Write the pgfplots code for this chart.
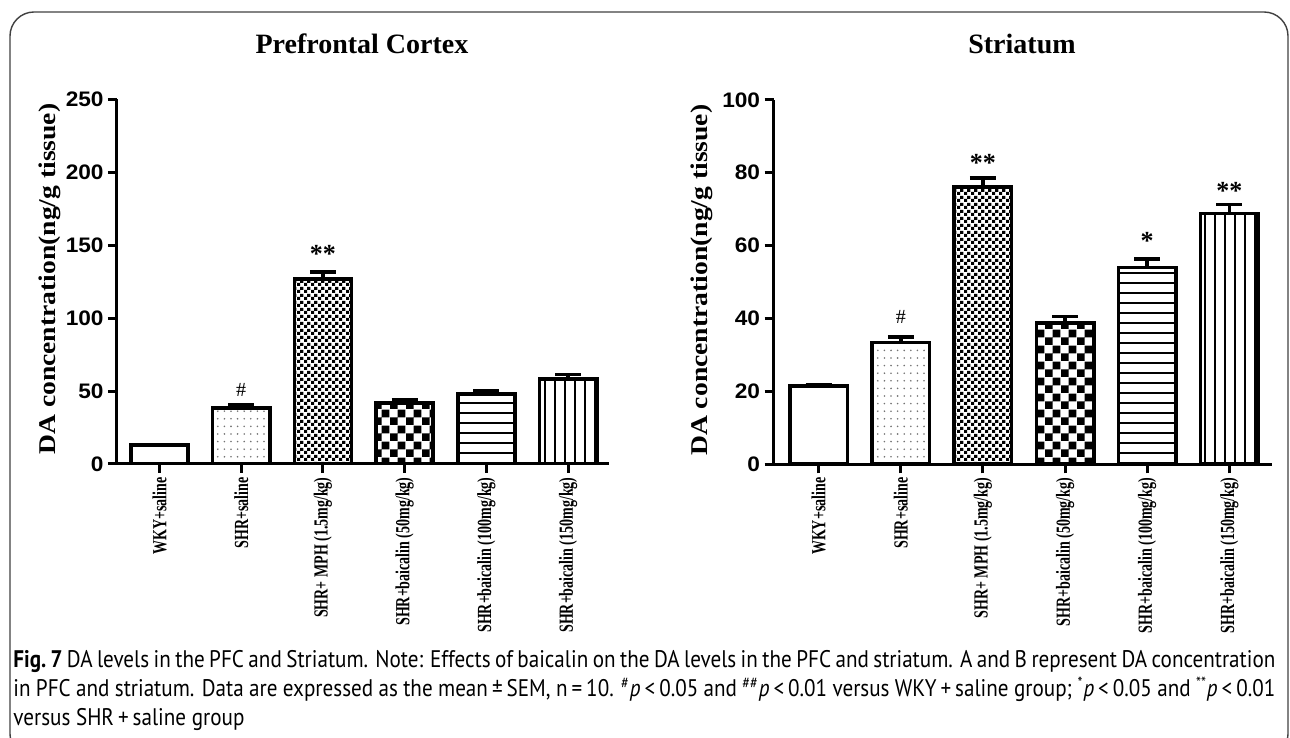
\documentclass[border=0pt]{standalone}
\usepackage{pgfplots}
\pgfplotsset{compat=1.18}
\usetikzlibrary{patterns.meta}
\usepackage{fontspec}
\setmainfont{Liberation Serif}
\newfontfamily\lblfont[FakeStretch=0.7]{Liberation Serif}
\newfontfamily\ylabfont[FakeStretch=1.15]{Liberation Serif}
\newfontfamily\numfont[FakeStretch=1.08]{Liberation Sans}
\newfontfamily\capfont[FakeStretch=0.88]{PT Sans}

% bar fillings
\tikzdeclarepattern{name=sparsedots, type=uncolored,
  bounding box={(-1pt,-1pt) and (1pt,1pt)},
  tile size={(3.3pt,3.8pt)},
  code={\fill (0,0) circle (0.45pt);}}
\tikzdeclarepattern{name=finecheck, type=uncolored,
  bounding box={(0,0) and (3.3pt,3.3pt)},
  tile size={(3.3pt,3.3pt)},
  code={\fill (0,0) rectangle (1.65pt,1.65pt) (1.65pt,1.65pt) rectangle (3.3pt,3.3pt);}}
\tikzdeclarepattern{name=coarsecheck, type=uncolored,
  bounding box={(0,0) and (7.8pt,7.8pt)},
  tile size={(7.8pt,7.8pt)},
  code={\fill (0,0) rectangle (3.9pt,3.9pt) (3.9pt,3.9pt) rectangle (7.8pt,7.8pt);}}
\tikzdeclarepattern{name=hlines, type=uncolored,
  bounding box={(-0.5pt,0) and (5.5pt,5pt)},
  tile size={(5pt,5pt)},
  code={\fill (-0.5pt,2.2pt) rectangle (5.5pt,2.8pt);}}
\tikzdeclarepattern{name=vlines, type=uncolored,
  bounding box={(0,-0.5pt) and (5pt,5.5pt)},
  tile size={(5pt,5pt)},
  code={\fill (2.2pt,-0.5pt) rectangle (2.8pt,5.5pt);}}

\tikzset{sig/.style={font=\bfseries\fontsize{13}{13}\selectfont}}

\pgfplotsset{
  dachart/.style={
    scale only axis, height=182.25pt,
    ymin=0,
    axis x line=bottom, axis y line=left,
    axis line style={-, line width=1.5pt},
    xtick={0,...,5},
    xticklabels={WKY+saline, SHR+saline, SHR+ MPH (1.5mg/kg),
      SHR+baicalin (50mg/kg), SHR+baicalin (100mg/kg), SHR+baicalin (150mg/kg)},
    tick align=outside, major tick length=4.5pt,
    tick style={line width=1.5pt, black},
    xticklabel style={rotate=90, anchor=east, inner sep=2pt,
      font=\lblfont\bfseries\fontsize{10}{10}\selectfont},
    yticklabel style={font=\numfont\bfseries\fontsize{10.5}{11}\selectfont, inner sep=2pt},
    /pgf/number format/assume math mode=true,
    ylabel={DA concentration(ng/g tissue)},
    ylabel style={anchor=center, font=\ylabfont\bfseries\fontsize{12}{12}\selectfont},
    title style={anchor=center, font=\bfseries\fontsize{14}{14}\selectfont},
    ybar, bar width=0.7,
    every axis plot/.append style={bar shift=0pt, draw=black, line width=1.8pt},
    error bars/y dir=plus, error bars/y explicit,
    error bars/error bar style={line width=1.8pt},
    error bars/error mark options={line width=1.8pt, mark size=6.5pt, rotate=90},
  },
}

\begin{document}
% 1 image pixel = 0.5pt; y measured up from the bottom edge
\begin{tikzpicture}
\useasboundingbox (0pt,0pt) rectangle (645pt,369pt);
\draw[black!75, line width=0.7pt, rounded corners=12pt] (5pt,363pt) rectangle (644pt,-10pt);

% Prefrontal Cortex
\begin{axis}[dachart, at={(58.5pt,137pt)}, anchor=south west,
  width=246pt, xmin=-0.52, xmax=5.5, ymax=250, ytick={0,50,...,250},
  title={Prefrontal Cortex},
  title style={at={(axis description cs:0.498,1.12)}},
  ylabel style={at={(axis description cs:-0.137,0.507)}}]
\addplot[fill=white] coordinates {(0,13) +- (0,0.5)};
\addplot[pattern=sparsedots, pattern color=black!55] coordinates {(1,38.3) +- (0,2)};
\addplot[pattern=finecheck] coordinates {(2,127) +- (0,4.6)};
\addplot[pattern=coarsecheck] coordinates {(3,41.8) +- (0,2)};
\addplot[pattern=hlines] coordinates {(4,48) +- (0,2)};
\addplot[pattern=vlines] coordinates {(5,58.3) +- (0,3)};
\node[font=\fontsize{10}{10}\selectfont] at (axis cs:1,50.7) {\#};
\node[sig] at (axis cs:2,144) {**};
\end{axis}

% Striatum
\begin{axis}[dachart, at={(386.75pt,136.85pt)}, anchor=south west,
  width=249.25pt, xmin=-0.55, xmax=5.52, ymax=100, ytick={0,20,...,100},
  title={Striatum},
  title style={at={(axis description cs:0.4985,1.12)}},
  ylabel style={at={(axis description cs:-0.1434,0.505)}}]
\addplot[fill=white] coordinates {(0,21.4) +- (0,0.4)};
\addplot[pattern=sparsedots, pattern color=black!55] coordinates {(1,33.4) +- (0,1.5)};
\addplot[pattern=finecheck] coordinates {(2,76) +- (0,2.6)};
\addplot[pattern=coarsecheck] coordinates {(3,38.8) +- (0,1.7)};
\addplot[pattern=hlines] coordinates {(4,54) +- (0,2.4)};
\addplot[pattern=vlines] coordinates {(5,68.8) +- (0,2.5)};
\node[font=\fontsize{10}{10}\selectfont] at (axis cs:1,40.3) {\#};
\node[sig] at (axis cs:2,82.8) {**};
\node[sig] at (axis cs:4,61.3) {*};
\node[sig] at (axis cs:5,74.9) {**};
\end{axis}

% caption
\begin{scope}[every node/.style={anchor=base west, inner sep=0pt,
    font=\capfont\fontsize{12}{13}\selectfont}]
\node at (6.5pt,35pt) {\makebox[631pt][s]{\textbf{Fig.~7} DA levels in the PFC and Striatum. Note: Effects of baicalin on the DA levels in the PFC and striatum. A and B represent DA concentration}};
\node at (6.5pt,20.5pt) {\makebox[631pt][s]{in PFC and striatum. Data are expressed as the mean\,±\,SEM, n\,=\,10. \textsuperscript{\#}\textit{p}\,<\,0.05 and \textsuperscript{\#\#}\textit{p}\,<\,0.01 versus WKY\,+\,saline group; \textsuperscript{*}\textit{p}\,<\,0.05 and \textsuperscript{**}\textit{p}\,<\,0.01}};
\node at (6.5pt,6pt) {versus SHR\,+\,saline group};
\end{scope}
\end{tikzpicture}
\end{document}
